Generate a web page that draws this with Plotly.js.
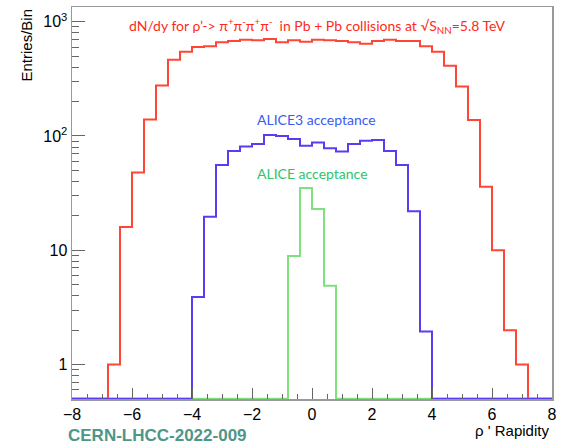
<!DOCTYPE html>
<html>
<head>
<meta charset="utf-8">
<script src="https://cdn.plot.ly/plotly-3.0.1.min.js"></script>
<style>html,body{margin:0;padding:0;background:#fff;}#chart{width:562px;height:448px;}</style>
</head>
<body>
<div id="chart"></div>
<script>
// Bin edges (rapidity), 40 bins of width 0.4 from -8 to 8
const binEdges = [-8.0,-7.6,-7.2,-6.8,-6.4,-6.0,-5.6,-5.2,-4.8,-4.4,-4.0,-3.6,-3.2,-2.8,-2.4,-2.0,-1.6,-1.2,-0.8,-0.4,
                  0.0,0.4,0.8,1.2,1.6,2.0,2.4,2.8,3.2,3.6,4.0,4.4,4.8,5.2,5.6,6.0,6.4,6.8,7.2,7.6,8.0];

// Entries per bin
const allCounts = [0,0,0,1,16,48,139,276,464,546,600,608,659,676,695,686,705,659,686,668,
                   695,686,677,659,641,677,695,677,677,608,546,411,271,138,36,10,2,1,0,0];
const alice3Counts = [0,0,0,0,0,0,0,0,0,0,3.9,19.6,55.7,74,81,85,102,100,94,82,
                      87.5,78,73,85,91,92,74,55.7,22,1.95,0,0,0,0,0,0,0,0,0,0];
const aliceCounts = [0,0,0,0,0,0,0,0,0,0,0,0,0,0,0,0,0,0,8.9,35,
                     23,4.9,0,0,0,0,0,0,0,0,0,0,0,0,0,0,0,0,0,0];

const yTickVals = [1,10,100,1000];
const yTickText = ['1','10','10<sup>2</sup>','10<sup>3</sup>'];
const xTickVals = [-8,-6,-4,-2,0,2,4,6,8];
const xTickText = ['\u22128','\u22126','\u22124','\u22122','0','2','4','6','8'];

const yMin = 0.5, yMax = 1343;
const floorVal = yMin * 1.003;

function stepTrace(counts, color) {
  const y = counts.map(v => v > 0 ? v : floorVal);
  y.push(y[y.length - 1]);
  return {
    x: binEdges, y: y, type: 'scatter', mode: 'lines',
    line: {shape: 'hv', color: color, width: 2},
    hoverinfo: 'skip', showlegend: false
  };
}

const data = [
  stepTrace(allCounts, '#ff4636'),
  stepTrace(aliceCounts, '#7fe07f'),
  stepTrace(alice3Counts, '#5a3cf2')
];

const W = 562, H = 448, L = 72, R = 10, T = 7, B = 49;
const pw = W - L - R, ph = H - T - B;
const px = x => (x - L) / pw;
const py = y => (H - B - y) / ph;

const layout = {
  width: W, height: H,
  margin: {l: L, r: R, t: T, b: B, pad: 0},
  paper_bgcolor: '#fff', plot_bgcolor: '#fff',
  font: {family: 'Liberation Sans, Arial, sans-serif', color: '#000', size: 15},
  xaxis: {
    range: [-8, 8], showgrid: false, zeroline: false,
    showline: true, mirror: true, linecolor: '#999', linewidth: 1.5,
    ticks: 'inside', ticklen: 11, tickcolor: '#666', tickwidth: 1,
    tickvals: xTickVals, ticktext: xTickText,
    tickfont: {size: 16, family: 'Liberation Sans, Arial, sans-serif'},
    minor: {ticks: 'inside', ticklen: 5, dtick: 0.5, tickcolor: '#666', tickwidth: 1, showgrid: false}
  },
  yaxis: {
    type: 'log', range: [Math.log10(yMin), Math.log10(yMax)],
    showgrid: false, zeroline: false,
    showline: true, mirror: true, linecolor: '#999', linewidth: 1.5,
    ticks: 'inside', ticklen: 13, tickcolor: '#666', tickwidth: 1,
    tickvals: yTickVals, ticktext: yTickText,
    tickfont: {size: 16, family: 'Liberation Sans, Arial, sans-serif'},
    minor: {ticks: 'inside', ticklen: 7, dtick: 'D1', tickcolor: '#666', tickwidth: 1, showgrid: false}
  },
  annotations: [
    {xref: 'paper', yref: 'paper', x: px(316.5), y: py(25), xanchor: 'center', yanchor: 'middle',
     showarrow: false, font: {family: 'Lato, sans-serif', size: 14, color: '#ff2a1a'},
     text: 'dN/dy for \u03c1\u2019-> \u03c0<sup>+</sup>\u03c0<sup>-</sup>\u03c0<sup>+</sup>\u03c0<sup>-</sup>  in Pb + Pb collisions at \u221aS<sub>NN</sub>=5.8 TeV'},
    {xref: 'paper', yref: 'paper', x: px(316), y: py(119), xanchor: 'center', yanchor: 'middle',
     showarrow: false, font: {family: 'Lato, sans-serif', size: 14, color: '#3a5af0'},
     text: 'ALICE3 acceptance'},
    {xref: 'paper', yref: 'paper', x: px(312), y: py(174), xanchor: 'center', yanchor: 'middle',
     showarrow: false, font: {family: 'Lato, sans-serif', size: 14, color: '#2ec46a'},
     text: 'ALICE acceptance'},
    {xref: 'paper', yref: 'paper', x: px(26), y: py(7), xanchor: 'center', yanchor: 'top',
     textangle: -90, showarrow: false, font: {size: 15, color: '#000'},
     text: 'Entries/Bin'},
    {xref: 'paper', yref: 'paper', x: px(551), y: py(430), xanchor: 'right', yanchor: 'middle',
     showarrow: false, font: {size: 15, color: '#000'},
     text: '\u03c1 \' Rapidity'},
    {xref: 'paper', yref: 'paper', x: px(66), y: py(435), xanchor: 'left', yanchor: 'middle',
     showarrow: false, font: {size: 17, color: '#4e9688', family: 'Liberation Sans, Arial, sans-serif', weight: 'bold'},
     text: '<b>CERN-LHCC-2022-009</b>'}
  ]
};

Plotly.newPlot('chart', data, layout, {staticPlot: true, displayModeBar: false});
</script>
</body>
</html>
